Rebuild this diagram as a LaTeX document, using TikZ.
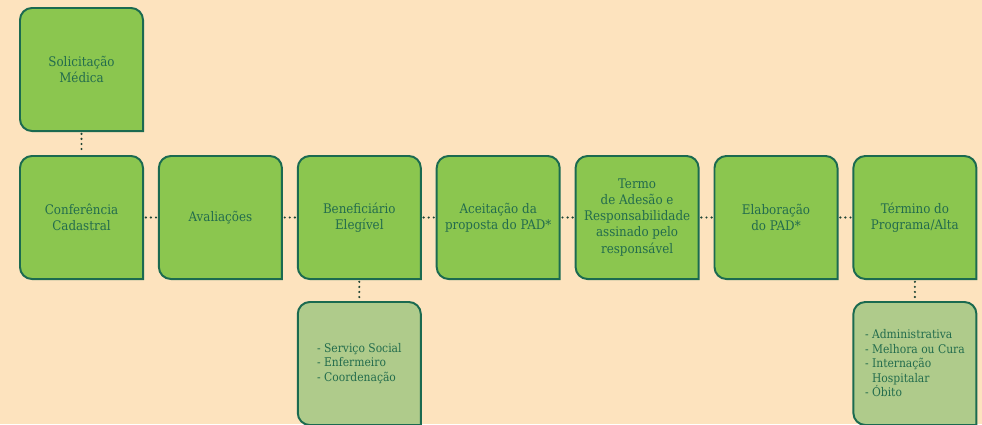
\documentclass[tikz,border=0pt]{standalone}
\usepackage{fontspec}
\setmainfont{DejaVu Serif Condensed}
\usetikzlibrary{calc}
\definecolor{fond_peche}{HTML}{FDE3BE}
\definecolor{vert_boite}{HTML}{8BC64F}
\definecolor{vert_clair}{HTML}{AFCB8B}
\definecolor{vert_fonce}{HTML}{1B6A50}
\definecolor{vert_texte}{HTML}{236C4D}
\definecolor{vert_points}{HTML}{1F4535}
\pgfdeclarelayer{fond}
\pgfsetlayers{fond,main}

% Boîte à trois coins arrondis (coin sud-est droit) autour d'un noeud
\newcommand{\boite}[2]{%
  \draw[vert_fonce, line width=1.4pt, fill=#2] (#1.south east)
    -- ([yshift=-0.3cm]#1.north east) arc[start angle=0, end angle=90, radius=0.3cm]
    -- ([xshift=0.3cm]#1.north west) arc[start angle=90, end angle=180, radius=0.3cm]
    -- ([yshift=0.3cm]#1.south west) arc[start angle=180, end angle=270, radius=0.3cm]
    -- cycle;}

\begin{document}
\begin{tikzpicture}[x=0.025cm, y=0.025cm,
    etape/.style={minimum width=3.075cm, minimum height=3.075cm, inner sep=2pt, outer sep=0pt,
      align=center, text=vert_texte, font=\fontsize{9.4}{11.4}\selectfont},
    liste/.style={etape, align=left, font=\fontsize{8.5}{10.3}\selectfont},
    pointille/.style={vert_points, line width=1.7pt, line cap=round,
      dash pattern=on 0pt off 3.6pt, shorten <=2pt, shorten >=2pt}]

    % Fond de la figure
    \useasboundingbox (0,0) rectangle (982,424);
    \begin{pgfonlayer}{fond}
      \fill[fond_peche] (0,0) rectangle (982,424);
    \end{pgfonlayer}

    % Placer les étapes du parcours
    \node[etape] (sol) at (81.5,354.5) {Solicitação\\Médica};
    \node[etape] (conf) at (81.5,206.5) {Conferência\\Cadastral};
    \node[etape] (aval) at (220.4,206.5) {Avaliações};
    \node[etape] (benef) at (359.3,206.5) {Beneficiário\\Elegível};
    \node[etape] (aceit) at (498.2,206.5) {Aceitação da\\proposta do PAD*};
    \node[etape] (termo) at (637.1,206.5) {Termo\\de Adesão e\\Responsabilidade\\assinado pelo\\responsável};
    \node[etape] (elab) at (776,206.5) {Elaboração\\do PAD*};
    \node[etape] (term) at (914.9,206.5) {Término do\\Programa/Alta};

    % Listes sous les étapes
    \node[liste] (equipe) at (359.3,60.5) {- Serviço Social\\- Enfermeiro\\- Coordenação};
    \node[liste] (motifs) at (914.9,60.5) {- Administrativa\\- Melhora ou Cura\\- Internação\\\phantom{- }Hospitalar\\- Óbito};

    % Dessiner les boîtes derrière les textes
    \begin{pgfonlayer}{fond}
      \boite{sol}{vert_boite}
      \boite{conf}{vert_boite}
      \boite{aval}{vert_boite}
      \boite{benef}{vert_boite}
      \boite{aceit}{vert_boite}
      \boite{termo}{vert_boite}
      \boite{elab}{vert_boite}
      \boite{term}{vert_boite}
      \boite{equipe}{vert_clair}
      \boite{motifs}{vert_clair}
    \end{pgfonlayer}

    % Relier les étapes par des pointillés
    \draw[pointille] (sol) -- (conf);
    \draw[pointille] (conf) -- (aval);
    \draw[pointille] (aval) -- (benef);
    \draw[pointille] (benef) -- (aceit);
    \draw[pointille] (aceit) -- (termo);
    \draw[pointille] (termo) -- (elab);
    \draw[pointille] (elab) -- (term);
    \draw[pointille] (benef) -- (equipe);
    \draw[pointille] (term) -- (motifs);
  \end{tikzpicture}
\end{document}
